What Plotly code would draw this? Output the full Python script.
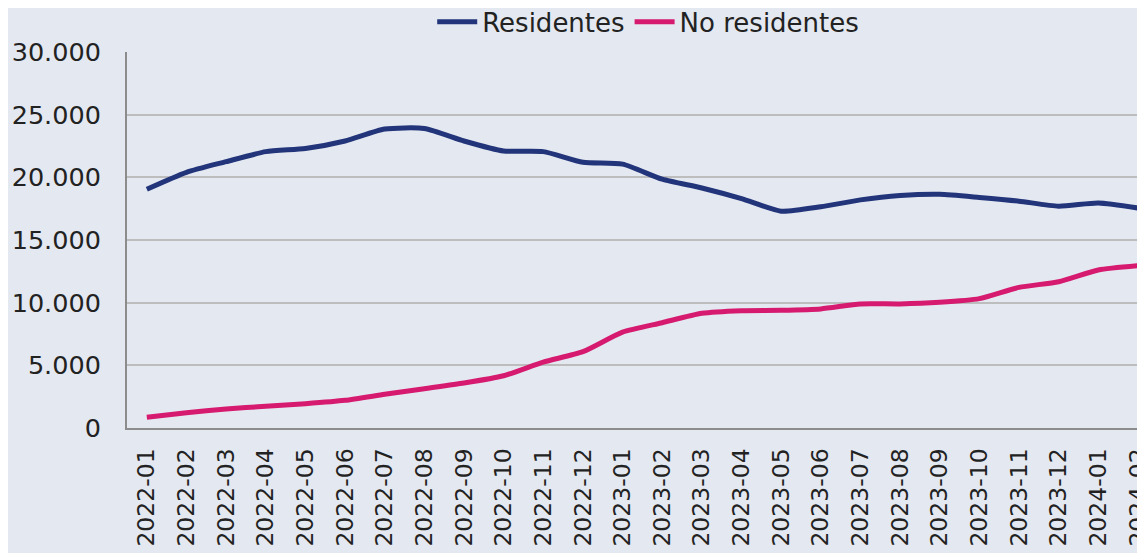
import plotly.graph_objects as go

months = ["2022-01","2022-02","2022-03","2022-04","2022-05","2022-06","2022-07","2022-08",
          "2022-09","2022-10","2022-11","2022-12","2023-01","2023-02","2023-03","2023-04",
          "2023-05","2023-06","2023-07","2023-08","2023-09","2023-10","2023-11","2023-12",
          "2024-01","2024-02"]
residentes = [19050, 20400, 21250, 22050, 22300, 22900, 23850, 23900, 22900, 22100, 22050, 21200,
              21050, 19850, 19150, 18300, 17300, 17650, 18200, 18550, 18650, 18400, 18100, 17700,
              17950, 17550]
no_residentes = [850, 1220, 1520, 1730, 1940, 2210, 2690, 3140, 3590, 4170, 5250, 6090,
                 7650, 8400, 9150, 9360, 9390, 9500, 9900, 9900, 10030, 10320, 11220, 11670,
                 12610, 12950]
y_ticks = [0, 5000, 10000, 15000, 20000, 25000, 30000]

BG = "#E4E8F0"
FONT = "DejaVu Sans"

fig = go.Figure()
fig.add_trace(go.Scatter(x=months, y=residentes, name="Residentes", mode="lines",
                         line=dict(color="#22347A", width=5, shape="spline", smoothing=0.6)))
fig.add_trace(go.Scatter(x=months, y=no_residentes, name="No residentes", mode="lines",
                         line=dict(color="#D61A70", width=5, shape="spline", smoothing=0.6)))

fig.update_layout(
    width=1145, height=553,
    paper_bgcolor=BG, plot_bgcolor=BG,
    margin=dict(l=119, r=0, t=44, b=133, autoexpand=False),
    separators=",.",
    font=dict(family=FONT, size=25, color="#222222"),
    legend=dict(orientation="h", x=0.508, xanchor="center",
                yref="container", y=0.975, yanchor="middle",
                font=dict(size=26), bgcolor="rgba(0,0,0,0)", itemwidth=40,
                tracegroupgap=0),
    showlegend=True,
)
fig.update_xaxes(type="category", range=[-0.5, 25.38], tickangle=-90,
                 showgrid=False, showline=True, linecolor="#8C8C8C", linewidth=2,
                 ticks="", tickfont=dict(size=23.5), ticklabelstandoff=9)
fig.update_yaxes(range=[0, 30000], tickvals=y_ticks, tickformat=",d",
                 showgrid=True, gridcolor="#BDBDBD", gridwidth=2,
                 showline=True, linecolor="#8C8C8C", linewidth=2,
                 zeroline=False, ticks="", tickfont=dict(size=25.5), ticklabelstandoff=19)

fig.write_html("out.html")
